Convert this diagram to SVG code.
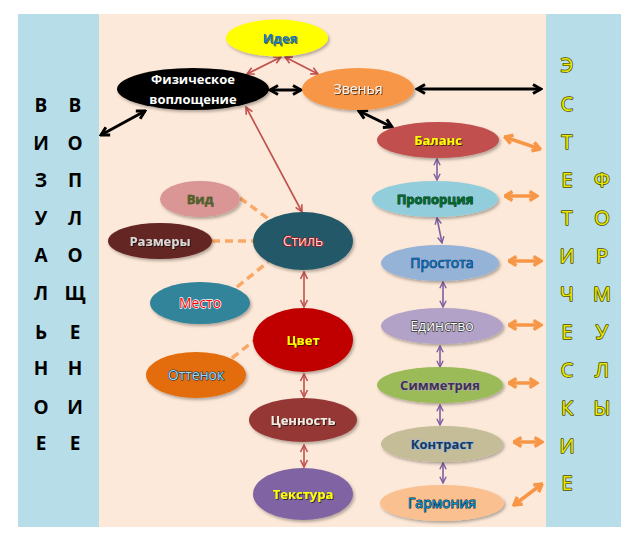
<svg xmlns="http://www.w3.org/2000/svg" width="632" height="541" viewBox="0 0 632 541">
<defs>
<style>
.lbl{font-family:"Open Sans","Liberation Sans",sans-serif;font-size:13px;font-weight:bold;text-anchor:middle;paint-order:stroke;stroke-linejoin:round}
.rg{font-weight:normal;font-size:14px}
.lv{font-family:"Open Sans","Liberation Sans",sans-serif;font-size:19px;font-weight:bold;text-anchor:middle;fill:#000}
.rv{font-family:"Open Sans","Liberation Sans",sans-serif;font-size:20px;text-anchor:middle;fill:#E8E800;stroke:#4A4A00;stroke-width:1.5;paint-order:stroke;stroke-linejoin:round}
.cb{fill:none;stroke:#000;stroke-width:3}
.cr{fill:none;stroke:#C0504D;stroke-width:1.6}
.cp{fill:none;stroke:#7D60A0;stroke-width:1.6}
.co{fill:none;stroke:#F79646;stroke-width:3.5}
.cd{fill:none;stroke:#F9A868;stroke-width:3.5;stroke-dasharray:8 5}
.nd{filter:url(#sh)}
</style>
<filter id="sh" x="-20%" y="-20%" width="140%" height="150%"><feDropShadow dx="1.5" dy="2" stdDeviation="1.5" flood-color="#000" flood-opacity="0.3"/></filter>
<filter id="ts" x="-10%" y="-30%" width="120%" height="160%"><feDropShadow dx="1" dy="1" stdDeviation="0.5" flood-color="#000" flood-opacity="0.6"/></filter>
<marker id="mb" viewBox="0 0 12 12" refX="10" refY="6" markerWidth="12" markerHeight="12" markerUnits="userSpaceOnUse" orient="auto-start-reverse"><path d="M2,1.5 L10,6 L2,10.5" fill="none" stroke="#000" stroke-width="3"/></marker>
<marker id="mr" viewBox="0 0 10 10" refX="9" refY="5" markerWidth="10" markerHeight="10" markerUnits="userSpaceOnUse" orient="auto-start-reverse"><path d="M2,1.5 L9,5 L2,8.5" fill="none" stroke="#C0504D" stroke-width="1.6"/></marker>
<marker id="mp" viewBox="0 0 10 10" refX="9" refY="5" markerWidth="9" markerHeight="9" markerUnits="userSpaceOnUse" orient="auto-start-reverse"><path d="M2,1.5 L9,5 L2,8.5" fill="none" stroke="#7D60A0" stroke-width="1.6"/></marker>
<marker id="mo" viewBox="0 0 12 12" refX="10.5" refY="6" markerWidth="12" markerHeight="12" markerUnits="userSpaceOnUse" orient="auto-start-reverse"><path d="M3,1.5 L10.5,6 L3,10.5" fill="none" stroke="#F79646" stroke-width="3.5" stroke-linejoin="miter"/></marker>
</defs>

<g id="background">
<rect x="18" y="14" width="81" height="513" fill="#B7DDE8"/>
<rect x="99" y="14" width="447" height="513" fill="#FDE9D9"/>
<rect x="546" y="14" width="75" height="513" fill="#B7DDE8"/>
</g>

<g id="left-panel">
<text class="lv" x="41" y="112">В</text><text class="lv" x="75" y="112">В</text>
<text class="lv" x="41" y="150">И</text><text class="lv" x="75" y="150">О</text>
<text class="lv" x="41" y="187">З</text><text class="lv" x="75" y="187">П</text>
<text class="lv" x="41" y="225">У</text><text class="lv" x="75" y="225">Л</text>
<text class="lv" x="41" y="262">А</text><text class="lv" x="75" y="262">О</text>
<text class="lv" x="41" y="300">Л</text><text class="lv" x="75" y="300">Щ</text>
<text class="lv" x="41" y="339">Ь</text><text class="lv" x="75" y="339">Е</text>
<text class="lv" x="41" y="375">Н</text><text class="lv" x="75" y="375">Н</text>
<text class="lv" x="41" y="414">О</text><text class="lv" x="75" y="414">И</text>
<text class="lv" x="41" y="450">Е</text><text class="lv" x="75" y="450">Е</text>
</g>

<g id="right-panel">
<text class="rv" x="567" y="72">Э</text>
<text class="rv" x="567" y="111">С</text>
<text class="rv" x="567" y="149">Т</text>
<text class="rv" x="567" y="187">Е</text><text class="rv" x="602" y="187">Ф</text>
<text class="rv" x="567" y="225">Т</text><text class="rv" x="602" y="225">О</text>
<text class="rv" x="567" y="263">И</text><text class="rv" x="602" y="263">Р</text>
<text class="rv" x="567" y="301">Ч</text><text class="rv" x="602" y="301">М</text>
<text class="rv" x="567" y="339">Е</text><text class="rv" x="602" y="339">У</text>
<text class="rv" x="567" y="377">С</text><text class="rv" x="602" y="377">Л</text>
<text class="rv" x="567" y="415">К</text><text class="rv" x="602" y="415">Ы</text>
<text class="rv" x="567" y="453">И</text>
<text class="rv" x="567" y="490">Е</text>
</g>

<g id="connectors">
<line class="cb" x1="101" y1="135" x2="145" y2="111" marker-start="url(#mb)" marker-end="url(#mb)"/>
<line class="cb" x1="270" y1="90" x2="301" y2="90" marker-start="url(#mb)" marker-end="url(#mb)"/>
<line class="cb" x1="417" y1="89" x2="541" y2="89" marker-start="url(#mb)" marker-end="url(#mb)"/>
<line class="cb" x1="359" y1="111" x2="392" y2="127" marker-start="url(#mb)" marker-end="url(#mb)"/>
<line class="cr" x1="247" y1="74" x2="281" y2="57" marker-start="url(#mr)" marker-end="url(#mr)"/>
<line class="cr" x1="285" y1="57" x2="318" y2="74" marker-start="url(#mr)" marker-end="url(#mr)"/>
<line class="cr" x1="246" y1="107" x2="302" y2="212" marker-start="url(#mr)" marker-end="url(#mr)"/>
<line class="cr" x1="304" y1="272" x2="304" y2="307" marker-start="url(#mr)" marker-end="url(#mr)"/>
<line class="cr" x1="304" y1="374" x2="304" y2="397" marker-start="url(#mr)" marker-end="url(#mr)"/>
<line class="cr" x1="304" y1="445" x2="304" y2="467" marker-start="url(#mr)" marker-end="url(#mr)"/>
<line class="cd" x1="240" y1="198" x2="270" y2="220"/>
<line class="cd" x1="212" y1="241" x2="254" y2="241"/>
<line class="cd" x1="237" y1="287" x2="268" y2="262"/>
<line class="cd" x1="232" y1="358" x2="255" y2="340"/>
<line class="cp" x1="437" y1="159" x2="437" y2="180" marker-start="url(#mp)" marker-end="url(#mp)"/>
<line class="cp" x1="437" y1="218" x2="442" y2="243" marker-start="url(#mp)" marker-end="url(#mp)"/>
<line class="cp" x1="443" y1="282" x2="443" y2="307" marker-start="url(#mp)" marker-end="url(#mp)"/>
<line class="cp" x1="440" y1="346" x2="440" y2="367" marker-start="url(#mp)" marker-end="url(#mp)"/>
<line class="cp" x1="440" y1="405" x2="440" y2="425" marker-start="url(#mp)" marker-end="url(#mp)"/>
<line class="cp" x1="443" y1="463" x2="443" y2="483" marker-start="url(#mp)" marker-end="url(#mp)"/>
<line class="co" x1="505" y1="137" x2="540" y2="149" marker-start="url(#mo)" marker-end="url(#mo)"/>
<line class="co" x1="505" y1="196" x2="537" y2="196" marker-start="url(#mo)" marker-end="url(#mo)"/>
<line class="co" x1="509" y1="261" x2="541" y2="261" marker-start="url(#mo)" marker-end="url(#mo)"/>
<line class="co" x1="509" y1="325" x2="541" y2="325" marker-start="url(#mo)" marker-end="url(#mo)"/>
<line class="co" x1="509" y1="383" x2="537" y2="383" marker-start="url(#mo)" marker-end="url(#mo)"/>
<line class="co" x1="514" y1="442" x2="542" y2="442" marker-start="url(#mo)" marker-end="url(#mo)"/>
<line class="co" x1="514" y1="505" x2="542" y2="484" marker-start="url(#mo)" marker-end="url(#mo)"/>
</g>

<g id="idea"><ellipse class="nd" cx="277" cy="38" rx="51" ry="18.5" fill="#FFFF00"/><text class="lbl" x="280" y="43" fill="#1F76BC" filter="url(#ts)">Идея</text></g>
<g id="physical"><ellipse class="nd" cx="193" cy="89" rx="76" ry="21" fill="#000"/><text class="lbl" x="193" y="84" fill="#fff">Физическое</text><text class="lbl" x="193" y="104" fill="#fff">воплощение</text></g>
<g id="links"><ellipse class="nd" cx="358" cy="89" rx="56" ry="21" fill="#F79646"/><text class="lbl rg" x="358" y="94" fill="#F2F2F2" filter="url(#ts)">Звенья</text></g>
<g id="balance"><ellipse class="nd" cx="438" cy="140" rx="61" ry="18" fill="#C0504D"/><text class="lbl" x="438" y="145" fill="#FFFF00" filter="url(#ts)">Баланс</text></g>
<g id="proportion"><ellipse class="nd" cx="435" cy="199" rx="63" ry="18" fill="#92CDDC"/><text class="lbl" x="435" y="204" fill="#006B2E" stroke="#0A2A10" stroke-width="0.8">Пропорция</text></g>
<g id="simplicity"><ellipse class="nd" cx="440" cy="263" rx="59" ry="18" fill="#95B3D7"/><text class="lbl rg" x="442" y="268" fill="#0070C0" stroke="#102040" stroke-width="0.7">Простота</text></g>
<g id="unity"><ellipse class="nd" cx="442" cy="326" rx="61" ry="18" fill="#B2A2C7"/><text class="lbl rg" x="442" y="331" fill="#FFFFFF" stroke="#333" stroke-width="1.3">Единство</text></g>
<g id="symmetry"><ellipse class="nd" cx="440" cy="385" rx="63" ry="18" fill="#9BBB59"/><text class="lbl" x="440" y="390" fill="#3F3151" stroke="#B9A7D0" stroke-width="0.8">Симметрия</text></g>
<g id="contrast"><ellipse class="nd" cx="442" cy="444" rx="61" ry="18" fill="#C4BD97"/><text class="lbl" x="442" y="449" fill="#17375E" stroke="#8DB3E2" stroke-width="1.2">Контраст</text></g>
<g id="harmony"><ellipse class="nd" cx="442" cy="503" rx="62" ry="18" fill="#FAC090"/><text class="lbl rg" x="442" y="508" fill="#0098DA" stroke="#0D1A2A" stroke-width="1">Гармония</text></g>

<g id="view"><ellipse class="nd" cx="200" cy="199" rx="40" ry="18" fill="#D99694"/><text class="lbl" x="200" y="204" fill="#4F6228" stroke="#2A3515" stroke-width="0.4">Вид</text></g>
<g id="sizes"><ellipse class="nd" cx="160" cy="241" rx="52" ry="18" fill="#632523"/><text class="lbl" x="160" y="246" fill="#D9D9D9" filter="url(#ts)">Размеры</text></g>
<g id="style"><ellipse class="nd" cx="303" cy="241" rx="50" ry="29" fill="#215968"/><text class="lbl rg" x="303" y="246" fill="#FFD5D5" stroke="#C00000" stroke-width="1.2">Стиль</text></g>
<g id="place"><ellipse class="nd" cx="200" cy="303" rx="50" ry="21" fill="#31849B"/><text class="lbl rg" x="200" y="308" fill="#FF0000" stroke="#FFFFFF" stroke-width="1.3">Место</text></g>
<g id="color"><ellipse class="nd" cx="303" cy="340" rx="50" ry="32" fill="#C00000"/><text class="lbl" x="303" y="345" fill="#FFFF00" filter="url(#ts)">Цвет</text></g>
<g id="shade"><ellipse class="nd" cx="196" cy="375" rx="50" ry="23" fill="#E36C09"/><text class="lbl rg" x="196" y="380" fill="#9ADCF8" stroke="#0D3050" stroke-width="1.1">Оттенок</text></g>
<g id="value"><ellipse class="nd" cx="303" cy="420" rx="54" ry="22" fill="#953735"/><text class="lbl" x="303" y="425" fill="#EEECE1" filter="url(#ts)">Ценность</text></g>
<g id="texture"><ellipse class="nd" cx="303" cy="494" rx="50" ry="26" fill="#8064A2"/><text class="lbl" x="303" y="499" fill="#FFFF00" filter="url(#ts)">Текстура</text></g>
</svg>
